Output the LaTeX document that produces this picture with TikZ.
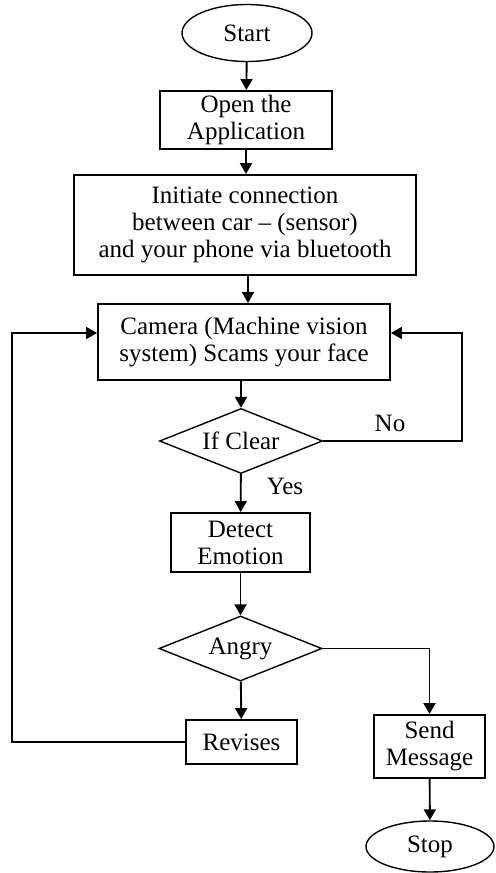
\documentclass[tikz,border=0pt]{standalone}
\usepackage{fontspec}
\setmainfont{Liberation Serif}
\usetikzlibrary{shapes.geometric, arrows.meta}

\begin{document}
\begin{tikzpicture}[x=0.5pt, y=-0.5pt, line width=0.95pt,
    font=\fontsize{12.5}{13.5}\selectfont,
    box/.style={draw, rectangle, align=center, inner sep=0pt},
    term/.style={draw, ellipse, inner sep=0pt, line width=0.7pt},
    dec/.style={draw, diamond, shape aspect=2.5, inner sep=0pt, line width=0.7pt},
    arr/.style={-{Triangle[length=5.5pt, width=6pt]}}]
    \useasboundingbox (0,0) rectangle (495,873);

    \node[term, minimum width=65pt, minimum height=28.5pt]
    (St) at (247,33) {Start};
    \node[box, minimum width=86pt, minimum height=29pt]
    (Op) at (246,120) {Open the\\Application};
    \node[box, minimum width=171pt, minimum height=50pt]
    (In) at (245,225) {Initiate connection\\between car -- (sensor)\\and your phone via bluetooth};
    \node[box, minimum width=146pt, minimum height=38pt]
    (Cam) at (244,342) {Camera (Machine vision\\system) Scams your face};
    \node[dec, minimum width=81.5pt, minimum height=32.5pt]
    (Clr) at (241,441) {If Clear};
    \node[box, minimum width=69.5pt, minimum height=29.5pt]
    (Det) at (240.5,542.5) {Detect\\Emotion};
    \node[dec, minimum width=81.5pt, minimum height=32.5pt]
    (Ang) at (240.5,648.5) {Angry};
    \node[box, minimum width=55.5pt, minimum height=22pt]
    (Rev) at (241.5,742) {Revises};
    \node[box, minimum width=55.5pt, minimum height=31.5pt]
    (Snd) at (429.5,746.5) {Send\\Message};
    \node[term, minimum width=64pt, minimum height=25.5pt]
    (Sp) at (430,846.5) {Stop};

    \node (No) at (390,423) {No};
    \node (Yes) at (285,486) {Yes};

    \coordinate (LL) at (12,333);
    \coordinate (RR) at (462,333);

    \draw[arr] (St) -- (Op);
    \draw[arr] (Op) -- (In.north -| Op);
    \draw[arr] (In.south -| 248,0) -- (Cam.north -| 248,0);
    \draw[arr] (Cam.south -| Clr.north) -- (Clr.north);
    \draw[arr] (Clr) -- (Det);
    \draw[arr] (Det) -- (Ang);
    \draw[arr] (Ang) -- (Rev);
    \draw[arr] (Ang.east) -| (Snd.north);
    \draw[arr] (Snd) -- (Sp);
    \draw[arr] (Clr.east) -| (RR) -- (RR -| Cam.east);
    \draw[arr] (Rev.west) -| (LL) -- (LL -| Cam.west);
  \end{tikzpicture}
\end{document}
